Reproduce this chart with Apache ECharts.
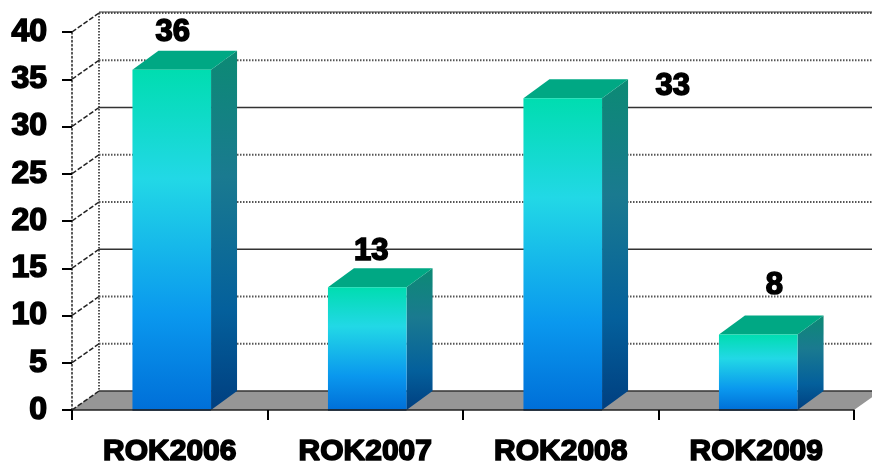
<!DOCTYPE html>
<html>
<head>
<meta charset="utf-8">
<style>html,body{margin:0;padding:0;background:#fff}#c{width:872px;height:465px;filter:blur(0.45px);}</style>
<script src="https://cdn.jsdelivr.net/npm/echarts@6/dist/echarts.min.js"></script>
</head>
<body>
<div id="c"></div>
<script>
const categories = ['ROK2006', 'ROK2007', 'ROK2008', 'ROK2009'];
const values = [36, 13, 33, 8];
const wallTicks = [0, 5, 10, 15, 20, 25, 30, 35, 40];
const solidWallTicks = [15, 30];

const DX = 27, DY = -19, BDX = 26;
const labelNudge = [[3, -37], [6, -36], [112, -12], [18, -49]];
const FONT = 'Liberation Sans';

const grad = stops => ({type: 'linear', x: 0, y: 0, x2: 0, y2: 1,
  colorStops: stops.map(s => ({offset: s[0], color: s[1]}))});
const frontFill = grad([[0, '#00DDB0'], [0.32, '#22D8E6'], [0.72, '#0A98EE'], [1, '#006FD8']]);
const sideFill = grad([[0, '#0C8A74'], [0.35, '#1A7A90'], [0.72, '#04609C'], [1, '#003F80']]);

const chart = echarts.init(document.getElementById('c'), null, {renderer: 'canvas'});

function renderFloor(params, api) {
  const cs = params.coordSys;
  const b = cs.y + cs.height;
  return {type: 'group', children: [
    {type: 'polygon', silent: true,
      shape: {points: [[cs.x, b], [cs.x + DX, b + DY], [cs.x + cs.width + DX, b + DY], [cs.x + cs.width, b]]},
      style: {fill: '#969696', stroke: null}},
    {type: 'line', silent: true,
      shape: {x1: cs.x + DX, y1: cs.y + DY, x2: cs.x + DX, y2: b + DY},
      style: {stroke: '#555', lineWidth: 2, lineDash: [1.5, 1.5]}}
  ]};
}

function renderWall(params, api) {
  const cs = params.coordSys;
  const v = api.value(0);
  const y = api.coord([0, v])[1];
  const kids = [];
  const isSolid = solidWallTicks.includes(v) || v === 0;
  kids.push({type: 'line', silent: true,
    shape: {x1: cs.x + DX, y1: y + DY, x2: cs.x + cs.width + DX, y2: y + DY},
    style: {stroke: isSolid ? '#333' : '#555', lineWidth: isSolid ? 1.5 : 2,
      lineDash: isSolid ? null : [1.5, 1.5]}});
  if (v === 40) {
    kids.push({type: 'line', silent: true,
      shape: {x1: cs.x + DX, y1: y + DY - 1, x2: cs.x + cs.width + DX, y2: y + DY - 1},
      style: {stroke: '#333', lineWidth: 1}});
  }
  kids.push({type: 'line', silent: true,
    shape: {x1: cs.x, y1: y, x2: cs.x + DX, y2: y + DY},
    style: {stroke: '#222', lineWidth: 1.5, lineDash: [5, 2]}});
  return {type: 'group', children: kids};
}

function renderBar(params, api) {
  const i = api.value(0);
  const v = api.value(1);
  const top = api.coord([i, v]);
  const base = api.coord([i, 0]);
  const w = api.size([1, 0])[0] * 0.402;
  const l = top[0] - w / 2 + 2, r = l + w;
  const t = top[1], b = base[1];
  const n = labelNudge[i];
  return {type: 'group', children: [
    {type: 'polygon', silent: true,
      shape: {points: [[r, t], [r + BDX, t + DY], [r + BDX, b + DY], [r, b]]},
      style: {fill: sideFill}},
    {type: 'polygon', silent: true,
      shape: {points: [[l, t], [l + BDX, t + DY], [r + BDX, t + DY], [r, t]]},
      style: {fill: '#00A884'}},
    {type: 'rect', silent: true,
      shape: {x: l, y: t, width: w, height: b - t},
      style: {fill: frontFill}},
    {type: 'line', silent: true,
      shape: {x1: l, y1: b, x2: r, y2: b},
      style: {stroke: '#00408a', lineWidth: 1.5}},
    {type: 'text', silent: true, z2: 50,
      style: {x: top[0] + n[0], y: t + n[1], text: String(v), align: 'center', verticalAlign: 'middle',
        fontFamily: FONT, fontWeight: 'bold', fontSize: 31, fill: '#000', stroke: '#000', lineWidth: 1.6}}
  ]};
}

chart.setOption({
  animation: false,
  backgroundColor: '#fff',
  grid: {left: 72, right: 18, top: 32, bottom: 55, containLabel: false, outerBoundsMode: 'none'},
  xAxis: {
    type: 'category', data: categories, z: 6,
    axisLine: {show: true, lineStyle: {color: '#222', width: 1.5}},
    axisTick: {show: true, alignWithLabel: false, length: 10, lineStyle: {color: '#000', width: 2}},
    axisLabel: {fontFamily: FONT, fontWeight: 'bold', fontSize: 30, color: '#000', margin: 27,
      textBorderColor: '#000', textBorderWidth: 1.6, interval: 0},
    splitLine: {show: false}
  },
  yAxis: {
    type: 'value', min: 0, max: 40, interval: 5, z: 6,
    axisLine: {show: true, lineStyle: {color: '#222', width: 1.5, type: [1.5, 2.5]}},
    axisTick: {show: true, length: 10, lineStyle: {color: '#000', width: 2}},
    axisLabel: {fontFamily: FONT, fontWeight: 'bold', fontSize: 32, color: '#000', margin: 25,
      textBorderColor: '#000', textBorderWidth: 1.6},
    splitLine: {show: false}
  },
  series: [
    {type: 'custom', coordinateSystem: 'cartesian2d', z: 1, clip: false, renderItem: renderFloor, data: [[0, 0]], silent: true},
    {type: 'custom', coordinateSystem: 'cartesian2d', z: 2, clip: false, renderItem: renderWall,
      data: wallTicks.map(v => [v]), encode: {y: 0}, silent: true},
    {type: 'custom', coordinateSystem: 'cartesian2d', z: 3, clip: false, renderItem: renderBar,
      data: values.map((v, i) => [i, v]), silent: true}
  ]
});
</script>
</body>
</html>
